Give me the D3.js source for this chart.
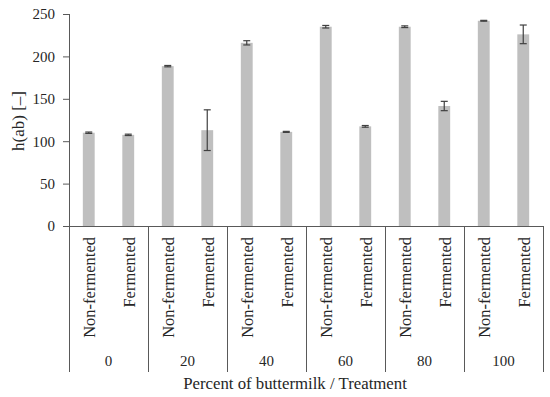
<!DOCTYPE html>
<html><head><meta charset="utf-8">
<script src="https://cdn.jsdelivr.net/npm/d3@7"></script>
<style>body{margin:0;background:#fff}svg{display:block}text{font-family:"Liberation Serif",serif;fill:#262626}</style>
</head><body>
<svg id="c" width="550" height="397"></svg>
<script>
const groups = ["0","20","40","60","80","100"];
const treatments = ["Non-fermented","Fermented"];
const values = [
  [110, 107.5],
  [188.5, 113],
  [216, 111],
  [235, 117.5],
  [235, 141.5],
  [242, 226]
];
const errors = [
  [0.8, 0.8],
  [0.8, 24],
  [2.5, 0.6],
  [1.5, 1],
  [1, 5.5],
  [0.5, 11]
];
const yTicks = [0,50,100,150,200,250];

const svg = d3.select("#c");
const L = 69, R = 543, T = 14, B = 226, bottom = 372;
const y = d3.scaleLinear().domain([0,250]).range([B,T]);
const xg = d3.scaleBand().domain(groups).range([L,R]);
const xt = d3.scaleBand().domain(treatments).range([0,xg.bandwidth()]).paddingInner(0.7).paddingOuter(0.35);

const data = [];
groups.forEach((g,i)=>treatments.forEach((t,j)=>data.push({g,t,v:values[i][j],e:errors[i][j]})));

// bars
svg.append("g").selectAll("rect").data(data).join("rect")
  .attr("x",d=>xg(d.g)+xt(d.t)).attr("width",xt.bandwidth())
  .attr("y",d=>y(d.v)).attr("height",d=>B-y(d.v)).attr("fill","#bfbfbf");

// error bars
const eg = svg.append("g").attr("stroke","#404040").attr("stroke-width",1.2);
data.forEach(d=>{
  const cx = xg(d.g)+xt(d.t)+xt.bandwidth()/2;
  eg.append("line").attr("x1",cx).attr("x2",cx).attr("y1",y(d.v+d.e)).attr("y2",y(d.v-d.e));
  [d.v+d.e,d.v-d.e].forEach(v=>eg.append("line").attr("x1",cx-3.5).attr("x2",cx+3.5).attr("y1",y(v)).attr("y2",y(v)));
});

// y axis
const ya = svg.append("g").attr("transform",`translate(${L},0)`)
  .call(d3.axisLeft(y).tickValues(yTicks).tickSize(6).tickPadding(8));
ya.select(".domain").remove();
ya.selectAll("line").attr("stroke","#595959");
ya.selectAll("text").style("font-size","15px").style("font-family","'Liberation Serif'").attr("fill","#262626");
svg.append("line").attr("x1",L+0.5).attr("x2",L+0.5).attr("y1",T).attr("y2",bottom).attr("stroke","#595959");

// x axis line and separators
svg.append("line").attr("x1",L).attr("x2",R).attr("y1",B+0.5).attr("y2",B+0.5).attr("stroke","#595959");
svg.append("g").selectAll("line").data(groups.slice(1).concat(["end"])).join("line")
  .attr("x1",d=>Math.round(d==="end"?R:xg(d))+0.5).attr("x2",d=>Math.round(d==="end"?R:xg(d))+0.5)
  .attr("y1",B).attr("y2",bottom).attr("stroke","#595959");

// treatment labels
svg.append("g").selectAll("text").data(data).join("text")
  .attr("transform",d=>`translate(${xg(d.g)+xt(d.t)+xt.bandwidth()/2+0.5},237) rotate(-90)`)
  .attr("text-anchor","end").attr("dy","0.35em").style("font-size","16.5px").text(d=>d.t);

// group labels
svg.append("g").selectAll("text").data(groups).join("text")
  .attr("x",d=>xg(d)+xg.bandwidth()/2).attr("y",361).attr("dy","0.35em")
  .attr("text-anchor","middle").style("font-size","15px").text(d=>d);

// axis titles
svg.append("text").attr("x",295).attr("y",383).attr("dy","0.35em").attr("text-anchor","middle")
  .style("font-size","16.8px").text("Percent of buttermilk / Treatment");
svg.append("text").attr("transform","translate(18,121) rotate(-90)").attr("dy","0.35em").attr("text-anchor","middle")
  .style("font-size","17px").text("h(ab) [–]");
</script>
</body></html>
